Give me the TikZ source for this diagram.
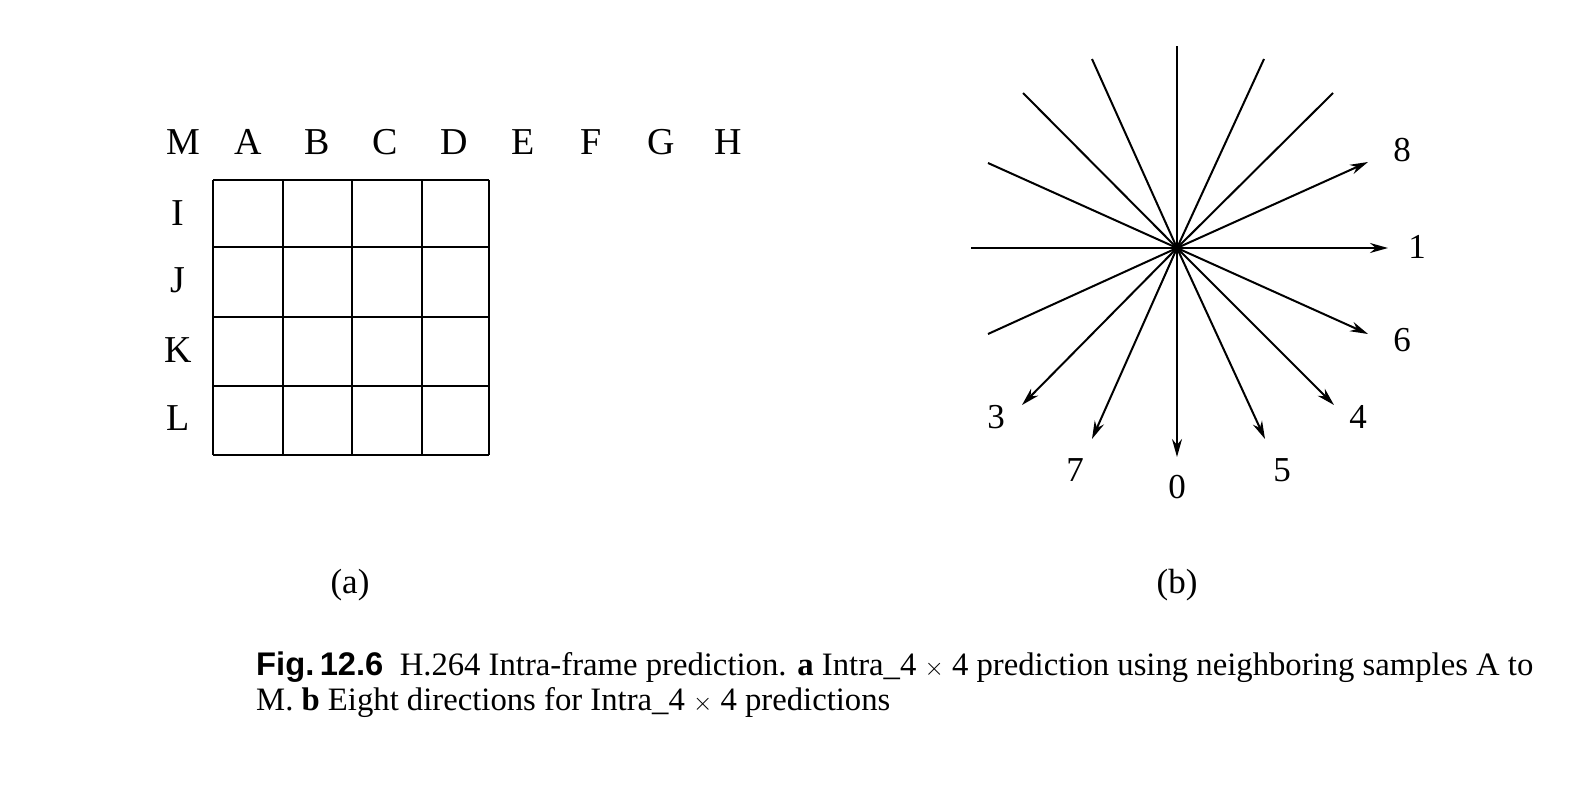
\documentclass[tikz,border=0pt]{standalone}
\usepackage{fontspec}
\setmainfont{Liberation Serif}
\newfontfamily\capsans{Liberation Sans}
\usetikzlibrary{arrows.meta}
\tikzset{
  lbl/.style={font=\fontsize{38}{44}\selectfont, inner sep=0pt},
  num/.style={font=\fontsize{35}{40}\selectfont, inner sep=0pt},
  sub/.style={font=\fontsize{35}{40}\selectfont, inner sep=0pt},
  capline/.style={font=\fontsize{32.7}{38}\selectfont, inner sep=0pt, anchor=base west},
  gridline/.style={line width=2.6pt},
  ray/.style={line width=2pt},
  arr/.style={ray, -{Stealth[length=18pt,width=10pt]}},
}
\begin{document}
\begin{tikzpicture}[x=1pt,y=-1pt]
\useasboundingbox (0,0) rectangle (1591,789);
% grid (a)
\foreach \x in {213,283,352,422,489} \draw[gridline] (\x,180) -- (\x,455);
\foreach \y in {180,247,317,386,455} \draw[gridline] (213,\y) -- (489,\y);
\node[lbl] (M) at (183,142) {M};
\node[lbl] (A) at (248,142) {A};
\node[lbl] (B) at (317,142) {B};
\node[lbl] (C) at (385,142) {C};
\node[lbl] (D) at (454,142) {D};
\node[lbl] (E) at (523,142) {E};
\node[lbl] (F) at (591,142) {F};
\node[lbl] (G) at (661,142) {G};
\node[lbl] (H) at (728,142) {H};
\node[lbl] (I) at (178,213) {I};
\node[lbl] (J) at (178,280) {J};
\node[lbl] (K) at (178,350) {K};
\node[lbl] (L) at (178,418) {L};
\node[sub] (la) at (350,585) {(a)};
% star (b)
\coordinate (O) at (1177,248);
\coordinate (up) at (1177,46);
\coordinate (ul1) at (1092,59);
\coordinate (ul2) at (1023,93);
\coordinate (ul3) at (988,163);
\coordinate (lf) at (971,248);
\coordinate (ll1) at (988,334);
\coordinate (ur1) at (1264,59);
\coordinate (ur2) at (1333,93);
\coordinate (e8) at (1368,162);
\coordinate (e1) at (1388,248);
\coordinate (e6) at (1368,334);
\coordinate (e4) at (1334,405);
\coordinate (e5) at (1265,439);
\coordinate (e0) at (1177,457);
\coordinate (e7) at (1092,439);
\coordinate (e3) at (1022,405);
\foreach \p in {up,ul1,ul2,ul3,lf,ll1,ur1,ur2} \draw[ray] (O) -- (\p);
\foreach \p in {e8,e1,e6,e4,e5,e0,e7,e3} \draw[arr] (O) -- (\p);
\node[num] (n8) at (1402,150) {8};
\node[num] (n1) at (1417,247) {1};
\node[num] (n6) at (1402,340) {6};
\node[num] (n4) at (1358,417) {4};
\node[num] (n5) at (1282,470) {5};
\node[num] (n0) at (1177,487) {0};
\node[num] (n7) at (1075,470) {7};
\node[num] (n3) at (996,417) {3};
\node[sub] (lb) at (1177,585) {(b)};
% caption
\node[capline] (cap1) at (256,675) {{\capsans\bfseries Fig.\,12.6}\ \ H.264 Intra-frame prediction. \textbf{a} Intra\_4 $\times$ 4 prediction using neighboring samples A to};
\node[capline] (cap2) at (256,710) {M. \textbf{b} Eight directions for Intra\_4 $\times$ 4 predictions};
\end{tikzpicture}
\end{document}
